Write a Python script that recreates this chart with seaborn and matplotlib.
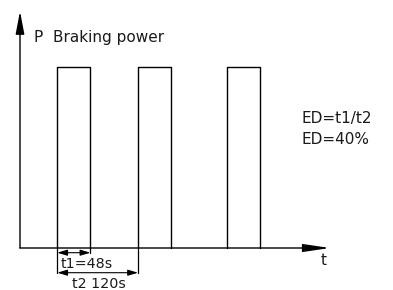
import numpy as np
import pandas as pd
import seaborn as sns
import matplotlib.pyplot as plt

# datos del ciclo de frenado (segundos, potencia normalizada)
pulse_starts = [54, 171, 300]
pulse_width = 48
pulse_power = 1.0
t_axis_end = 449
p_axis_end = 1.31

t1_label = "t1=48s"
t2_label = "t2 120s"
ed_lines = ["ED=t1/t2", "ED=40%"]

sns.set_theme(style="white")
plt.rcParams['font.family'] = ['DejaVu Sans']

W, H = 393, 290
fig = plt.figure(figsize=(W / 100, H / 100), dpi=100)
ax = fig.add_axes([0, 0, 1, 1])
ax.set_axis_off()

# escala: pixeles por unidad
x0_px, y0_px = 20, 248
sx = 0.69        # px por segundo
sy = 180.7       # px por unidad de potencia
ax.set_xlim(-x0_px / sx, (W - x0_px) / sx)
ax.set_ylim(-(H - y0_px) / sy, y0_px / sy)


def dy(px):
    # px hacia abajo desde la linea base -> unidades de datos
    return -px / sy


# forma de onda con pulsos rectangulares
xs, ys = [], []
for s in pulse_starts:
    xs += [s, s, s + pulse_width, s + pulse_width]
    ys += [0, pulse_power, pulse_power, 0]
wave = pd.DataFrame({"t": xs, "P": ys, "g": np.repeat(range(len(pulse_starts)), 4)})
sns.lineplot(data=wave, x="t", y="P", units="g", estimator=None, sort=False,
             color="black", lw=1.0, ax=ax, legend=False)

# ejes con flechas
ax.annotate("", xy=(t_axis_end, 0), xytext=(0, 0),
            arrowprops=dict(arrowstyle="-|>,head_length=1.35,head_width=0.2",
                            color="black", lw=1.0, shrinkA=0, shrinkB=0))
ax.annotate("", xy=(0, p_axis_end), xytext=(0, 0),
            arrowprops=dict(arrowstyle="-|>,head_length=1.15,head_width=0.22",
                            color="black", lw=1.0, shrinkA=0, shrinkB=0))

# cotas t1 y t2
s0 = pulse_starts[0]
e0 = s0 + pulse_width
s1 = pulse_starts[1]
y_t1, y_t2 = dy(4.7), dy(24.7)
ax.plot([s0, s0], [0, y_t2 + dy(0.5)], color="black", lw=0.9)
ax.plot([e0, e0], [0, y_t1 + dy(0.5)], color="black", lw=0.9)
ax.plot([s1, s1], [0, y_t2 + dy(0.5)], color="black", lw=0.9)
for a, b, yy in [(s0, e0, y_t1), (s0, s1, y_t2)]:
    ax.annotate("", xy=(b, yy), xytext=(a, yy),
                arrowprops=dict(arrowstyle="<|-|>,head_length=0.5,head_width=0.15",
                                color="black", lw=0.8, shrinkA=0, shrinkB=0))

txt = dict(color="#1a1a1a", fontsize=11)
small = dict(color="#1a1a1a", fontsize=10.3)
px_x = lambda p: (p - x0_px) / sx
ax.text(px_x(34), dy(42 - y0_px), "P", ha="left", va="baseline", **txt)
ax.text(px_x(53.5), dy(42 - y0_px), "Braking power", ha="left", va="baseline", **txt)
ax.text(px_x(301.5), dy(123.3 - y0_px), ed_lines[0], ha="left", va="baseline", **txt)
ax.text(px_x(301.5), dy(144.5 - y0_px), ed_lines[1], ha="left", va="baseline", **txt)
ax.text(px_x(61), dy(267.5 - y0_px), t1_label, ha="left", va="baseline", **small)
ax.text(px_x(99), dy(287.5 - y0_px), t2_label, ha="center", va="baseline", **small)
ax.text(px_x(324), dy(265 - y0_px), "t", ha="center", va="baseline", **txt)

fig.savefig("out.png", dpi=100)
